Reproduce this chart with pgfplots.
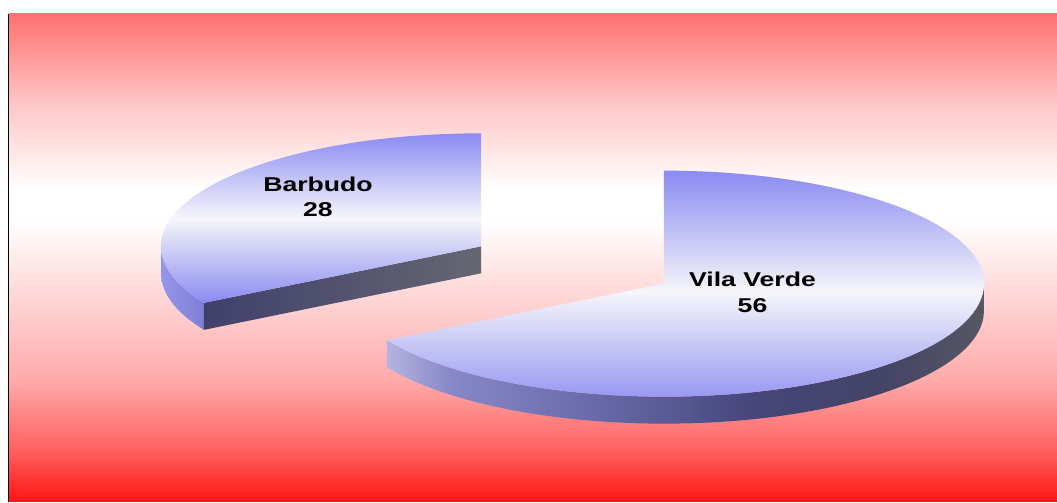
\documentclass[border=0pt]{standalone}
\usepackage{pgfplots}
\pgfplotsset{compat=1.18}
\usepackage{pgfplotstable}
\usepackage{fontspec}
\setmainfont{Liberation Sans}
\newfontfamily\labfont{Liberation Sans}[FakeStretch=1.33]

\definecolor{bgtop}{RGB}{255,112,112}
\definecolor{bg100}{RGB}{255,195,195}
\definecolor{bg380}{RGB}{255,170,170}
\definecolor{bg450}{RGB}{255,96,96}
\definecolor{bgbot}{RGB}{255,20,20}
\definecolor{faceblue}{RGB}{138,138,242}
\definecolor{facemid}{RGB}{246,246,250}
\definecolor{rimA}{RGB}{180,180,224}
\definecolor{rimB}{RGB}{136,136,200}
\definecolor{rimC}{RGB}{104,104,168}
\definecolor{rimD}{RGB}{69,69,122}
\definecolor{rimE}{RGB}{68,68,102}
\definecolor{rimF}{RGB}{86,86,100}

% background: red at the edges, white a little above the middle
\pgfdeclareverticalshading{bgshade}{100bp}{color(0bp)=(bgbot); color(25bp)=(bgbot);
  color(30.3bp)=(bg450); color(37.5bp)=(bg380); color(53.9bp)=(white);
  color(57bp)=(white); color(66.2bp)=(bg100); color(75bp)=(bgtop); color(100bp)=(bgtop)}
\pgfdeclarehorizontalshading{vvrim}{100bp}{color(0bp)=(rimA); color(25bp)=(rimA);
  color(30.3bp)=(rimB); color(42.9bp)=(rimC); color(56.3bp)=(rimD);
  color(66.4bp)=(rimE); color(75bp)=(rimF); color(100bp)=(rimF)}

\pgfplotstableread[col sep=comma]{
name,value
Barbudo,28
Vila Verde,56
}\piedata

\begin{document}
\begin{tikzpicture}
% slice values and angles
\pgfplotstablegetelem{0}{value}\of\piedata \edef\va{\pgfplotsretval}
\pgfplotstablegetelem{1}{value}\of\piedata \edef\vb{\pgfplotsretval}
\pgfplotstablegetelem{0}{name}\of\piedata \edef\na{\pgfplotsretval}
\pgfplotstablegetelem{1}{name}\of\piedata \edef\nb{\pgfplotsretval}
\pgfmathsetmacro\tot{\va+\vb}
\pgfmathsetmacro\aA{90}
\pgfmathsetmacro\aB{90+360*\va/\tot}
\pgfmathsetmacro\aC{450}
\pgfmathsetmacro\mA{(\aA+\aB)/2}
\pgfmathsetmacro\mB{(\aB+\aC)/2}
\def\rx{320}\def\ry{113}\def\dep{27}
\def\cx{572.5}\def\cy{237}\def\ex{0.33}
\pgfmathsetmacro\Bx{\cx+\ex*\rx*cos(\mA)}
\pgfmathsetmacro\By{\cy+\ex*\ry*sin(\mA)}
\pgfmathsetmacro\Vx{\cx+\ex*\rx*cos(\mB)}
\pgfmathsetmacro\Vy{\cy+\ex*\ry*sin(\mB)}
\pgfmathsetmacro\BLx{\Bx-\rx}
\pgfmathsetmacro\BEx{\Bx+\rx*cos(\aB)}
\pgfmathsetmacro\BEy{\By+\ry*sin(\aB)}
\pgfmathsetmacro\BTy{\By+\ry}
\pgfmathsetmacro\VSx{\Vx+\rx*cos(\aB)}
\pgfmathsetmacro\VSy{\Vy+\ry*sin(\aB)}
\begin{axis}[
    width=1057pt, height=502pt, scale only axis,
    xmin=0, xmax=1057, ymin=0, ymax=502,
    enlargelimits=false, hide axis, clip=false,
]
% frame and background
\fill[white] (axis cs:0,0) rectangle (axis cs:1057,502);
\shade[shading=bgshade] (axis cs:9,0) rectangle (axis cs:1057,488);
\draw[black, line width=1.3pt] (axis cs:8.4,0) -- (axis cs:8.4,488);

% Barbudo: outer rim, cut face, top
\shade[left color={rgb,255:red,150;green,150;blue,236}, right color={rgb,255:red,126;green,126;blue,212}]
  (axis cs:\BLx,\By) arc[start angle=180, end angle=\aB, x radius=\rx pt, y radius=\ry pt]
  -- ++(0pt,-\dep pt) arc[start angle=\aB, end angle=180, x radius=\rx pt, y radius=\ry pt] -- cycle;
\shade[left color={rgb,255:red,64;green,64;blue,108}, right color={rgb,255:red,102;green,102;blue,114}]
  (axis cs:\BEx,\BEy) -- (axis cs:\Bx,\By) -- ++(0pt,-\dep pt) -- ++(\BEx pt-\Bx pt,\BEy pt-\By pt) -- cycle;
\shade[top color=faceblue, bottom color=faceblue, middle color=facemid]
  (axis cs:\Bx,\By) -- (axis cs:\Bx,\BTy)
  arc[start angle=\aA, end angle=\aB, x radius=\rx pt, y radius=\ry pt] -- cycle;

% Vila Verde: outer rim, top
\shade[shading=vvrim]
  (axis cs:\VSx,\VSy) arc[start angle=\aB, end angle=360, x radius=\rx pt, y radius=\ry pt]
  -- ++(0pt,-\dep pt) arc[start angle=360, end angle=\aB, x radius=\rx pt, y radius=\ry pt] -- cycle;
\shade[top color=faceblue, bottom color=faceblue, middle color=facemid]
  (axis cs:\Vx,\Vy) -- (axis cs:\VSx,\VSy)
  arc[start angle=\aB, end angle=\aC, x radius=\rx pt, y radius=\ry pt] -- cycle;

% labels
\node[font=\labfont\bfseries\fontsize{20}{25.5}\selectfont, align=center]
  at (axis cs:318,305) {\na\\\va};
\node[font=\labfont\bfseries\fontsize{20}{25.5}\selectfont, align=center]
  at (axis cs:752.5,209.5) {\nb\\\vb};
\end{axis}
\end{tikzpicture}
\end{document}
